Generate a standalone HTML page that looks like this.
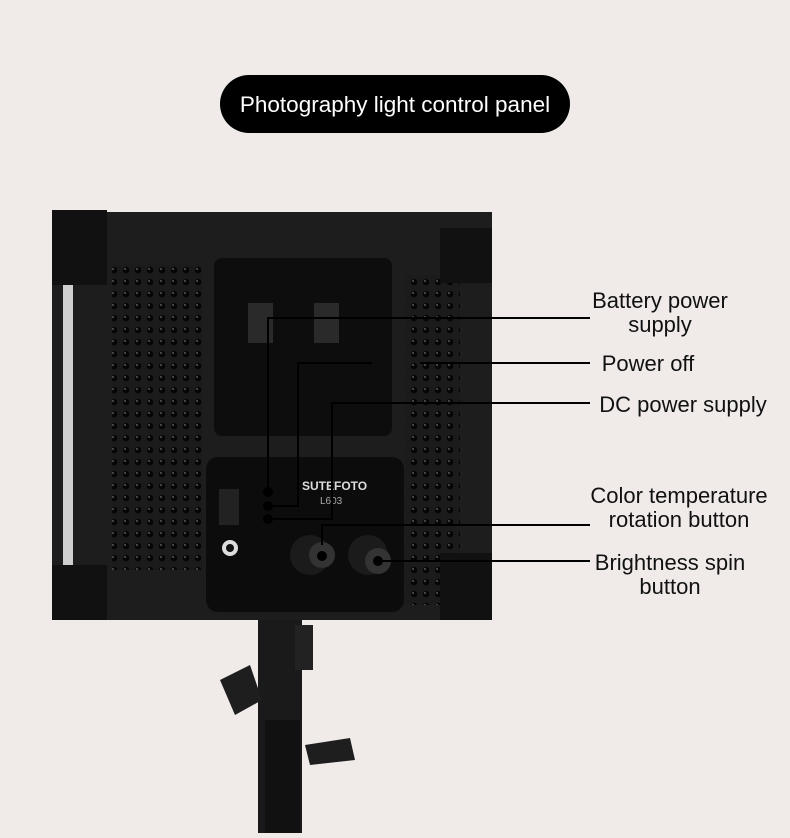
<!DOCTYPE html>
<html><head><style>
body{margin:0;width:790px;height:833px;background:#f0eae9;overflow:hidden;font-family:"Liberation Sans",sans-serif}
</style></head><body>
<svg width="790" height="833" viewBox="0 0 790 833" xmlns="http://www.w3.org/2000/svg">
<defs>
<pattern id="holes" width="12" height="12" patternUnits="userSpaceOnUse">
<rect width="12" height="12" fill="#1b1b1b"/>
<circle cx="6" cy="6" r="3.3" fill="#050505"/>
<circle cx="5" cy="5" r="1.2" fill="#444"/>
</pattern>
</defs>
<rect x="220" y="75" width="350" height="58" rx="29" fill="#000"/>
<text x="395" y="112" fill="#fff" font-size="22.5" text-anchor="middle">Photography light control panel</text>

<!-- stand -->
<rect x="258" y="618" width="44" height="215" fill="#1a1a1a"/>
<rect x="295" y="625" width="18" height="45" fill="#222"/>
<path d="M220 680 L250 665 L262 700 L235 715 Z" fill="#1e1e1e"/>
<path d="M305 745 L350 738 L355 760 L310 765 Z" fill="#1e1e1e"/>
<rect x="265" y="720" width="35" height="113" fill="#111"/>

<!-- panel -->
<rect x="52" y="212" width="440" height="408" fill="#1d1d1d"/>
<rect x="63" y="285" width="10" height="280" fill="#cfcfcf"/>
<rect x="112" y="265" width="90" height="305" fill="url(#holes)"/>
<rect x="405" y="275" width="55" height="330" fill="url(#holes)"/>
<rect x="52" y="210" width="55" height="75" fill="#111"/>
<rect x="52" y="565" width="55" height="55" fill="#111"/>
<rect x="440" y="228" width="52" height="55" fill="#111"/>
<rect x="440" y="553" width="52" height="67" fill="#111"/>
<rect x="214" y="258" width="178" height="178" rx="8" fill="#0d0d0d"/>
<rect x="248" y="303" width="25" height="40" fill="#2a2a2a"/>
<rect x="314" y="303" width="25" height="40" fill="#2a2a2a"/>
<rect x="206" y="457" width="198" height="155" rx="12" fill="#0c0c0c"/>
<rect x="219" y="489" width="20" height="36" fill="#222"/>
<circle cx="230" cy="548" r="8" fill="#ddd"/><circle cx="230" cy="548" r="4" fill="#111"/>
<text x="302" y="490" fill="#ddd" font-size="12" font-weight="bold">SUTEFOTO</text>
<text x="320" y="504" fill="#aaa" font-size="10">L603</text>
<circle cx="310" cy="555" r="20" fill="#1b1b1b"/><circle cx="322" cy="555" r="13" fill="#333"/>
<circle cx="368" cy="555" r="20" fill="#1b1b1b"/><circle cx="378" cy="561" r="13" fill="#333"/>

<!-- connectors -->
<g stroke="#000" stroke-width="2" fill="none">
<polyline points="268,492 268,318 590,318"/>
<polyline points="268,506 298,506 298,363 372,363"/>
<line x1="420" y1="363" x2="590" y2="363"/>
<polyline points="268,519 332,519 332,403 590,403"/>
<polyline points="322,545 322,525 590,525"/>
<line x1="378" y1="561" x2="590" y2="561"/>
</g>
<g fill="#000"><circle cx="268" cy="492" r="5"/><circle cx="268" cy="506" r="5"/><circle cx="268" cy="519" r="5"/><circle cx="322" cy="556" r="5"/><circle cx="378" cy="561" r="5"/></g>

<g fill="#111" font-size="22" text-anchor="middle">
<text x="660" y="308">Battery power</text>
<text x="660" y="332">supply</text>
<text x="648" y="371">Power off</text>
<text x="683" y="412">DC power supply</text>
<text x="679" y="503">Color temperature</text>
<text x="679" y="527">rotation button</text>
<text x="670" y="570">Brightness spin</text>
<text x="670" y="594">button</text>
</g>
</svg>
</body></html>
